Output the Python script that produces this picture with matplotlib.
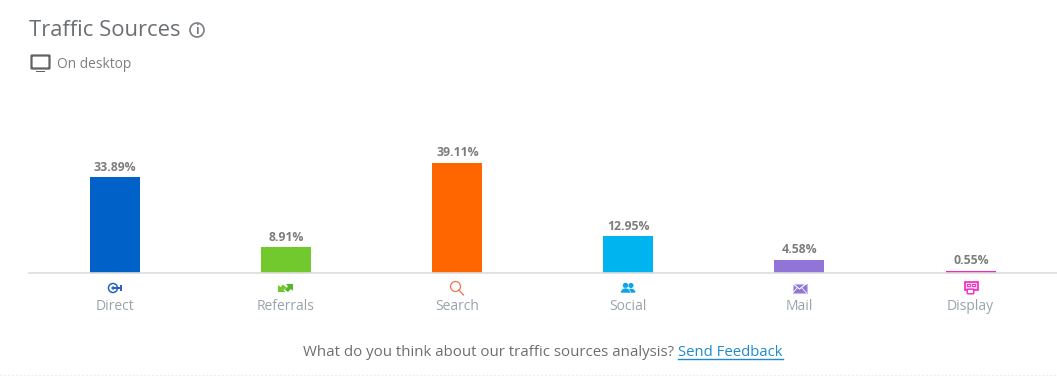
#!/usr/bin/env python
"""Traffic sources bar chart."""

import matplotlib
matplotlib.use('Agg')
import matplotlib.pyplot as plt
from matplotlib.patches import Circle, Rectangle, Polygon, FancyBboxPatch, Wedge
from matplotlib.lines import Line2D

plt.rcParams['font.family'] = ['Open Sans', 'DejaVu Sans']

W, H = 1057, 379

categories = ['Direct', 'Referrals', 'Search', 'Social', 'Mail', 'Display']
shares = [33.89, 8.91, 39.11, 12.95, 4.58, 0.55]
bar_colors = ['#0061c9', '#72c92e', '#ff6600', '#00b4f0', '#9074d8', '#f227c4']

fig = plt.figure(figsize=(W / 100, H / 100), dpi=100, facecolor='white')

# ── Bars ──
ax = fig.add_axes([29 / W, (H - 272.5) / H, 1028 / W, 182 / H])
ax.bar(range(len(shares)), shares, width=0.292, color=bar_colors, linewidth=0)
ax.set_xlim(-0.5, 5.505)
ax.set_ylim(0, 64.8)
for i, v in enumerate(shares):
    ax.annotate(f'{v:.2f}%', (i, v), xytext=(0.5, 2.5), textcoords='offset points',
                ha='center', va='bottom', fontsize=8.8, fontweight='bold', color='#7d7d7d')
for s in ['top', 'left', 'right']:
    ax.spines[s].set_visible(False)
ax.spines['bottom'].set_color('#dcdcdc')
ax.spines['bottom'].set_linewidth(1.2)
ax.set_yticks([])
ax.set_xticks(range(len(categories)))
ax.set_xticklabels(categories, fontsize=10, color='#9aa3ab')
ax.tick_params(axis='x', length=0, pad=19)

# ── Overlay in pixel coordinates for header, icons, footer ──
ov = fig.add_axes([0, 0, 1, 1], facecolor='none')
ov.set_xlim(0, W)
ov.set_ylim(H, 0)
ov.axis('off')

ov.text(29, 30, 'Traffic Sources', fontsize=15.8, color='#6b6f73', va='center', ha='left')
ov.add_patch(Circle((197, 30), 7, fill=False, ec='#7a7e82', lw=1.2))
ov.text(197, 30, 'i', fontsize=8.5, color='#7a7e82', ha='center', va='center', fontweight='bold')

# monitor icon
ov.add_patch(FancyBboxPatch((32, 56), 17, 12, boxstyle='round,pad=0.5', fc='white', ec='#5f6366', lw=1.6))
ov.add_patch(Rectangle((36, 70.5), 9, 1.8, fc='#5f6366', ec='none'))
ov.text(57, 64, 'On desktop', fontsize=9.9, color='#7c8084', va='center', ha='left')

# Direct icon
ov.add_patch(Circle((113, 288), 4.5, fill=False, ec='#2a5fc4', lw=1.1))
ov.add_patch(Circle((113, 288), 1.6, fc='#2a5fc4', ec='none'))
ov.add_patch(Rectangle((114, 287), 7, 2, fc='#2a5fc4', ec='none'))
ov.add_patch(Rectangle((119.5, 285), 2, 6, fc='#2a5fc4', ec='none'))

# Referrals icon
ov.add_patch(Polygon([(278, 292), (278, 285), (280.5, 287), (283, 284.5), (286.5, 287.5), (283.5, 290), (285.5, 292)],
                     fc='#72c92e', ec='none'))
ov.add_patch(Polygon([(293, 284), (293, 291), (291, 289), (288, 292), (284.5, 289.5), (288, 286.5), (286, 284)],
                     fc='#55b82a', ec='none'))

# Search icon
ov.add_patch(Circle((455.5, 286.5), 5, fill=False, ec='#f5734a', lw=0.9))
ov.add_line(Line2D([459, 463.5], [290, 295], color='#f5734a', lw=0.9))

# Social icon
for cx, sc in [(631, 0.95), (625.5, 1.0)]:
    ov.add_patch(Circle((cx, 285.5), 2.7 * sc, fc='#0aa5e8', ec='none'))
    ov.add_patch(Wedge((cx, 293), 5 * sc, 180, 360, fc='#0aa5e8', ec='white', lw=0.4))

# Mail icon
ov.add_patch(Rectangle((792.5, 283.5), 14, 9.5, fc='#9074d8', ec='#c5b8ee', lw=0.8))
ov.add_line(Line2D([792.5, 799.5, 806.5], [283.5, 289, 283.5], color='white', lw=0.8))
ov.add_line(Line2D([792.5, 797], [293, 288], color='white', lw=0.6))
ov.add_line(Line2D([806.5, 802], [293, 288], color='white', lw=0.6))

# Display icon
ov.add_patch(Rectangle((964.5, 281.5), 13, 8, fc='#fbd0f0', ec='#f227c4', lw=1.2))
ov.add_patch(Rectangle((966.5, 283.5), 3.5, 2.5, fc='white', ec='#f227c4', lw=0.7))
ov.add_patch(Rectangle((971.5, 283.5), 3.5, 2.5, fc='white', ec='#f227c4', lw=0.7))
ov.add_patch(FancyBboxPatch((968, 290), 5, 3, boxstyle='round,pad=0.8', fc='white', ec='#f227c4', lw=1))

# Footer
ov.text(674, 352, 'What do you think about our traffic sources analysis?', fontsize=10.85,
        color='#6b6f73', ha='right', va='center')
ov.text(783, 352, 'Send Feedback', fontsize=10.75, color='#1f8ad0', ha='right', va='center')
ov.add_line(Line2D([678, 783], [358.5, 358.5], color='#1f8ad0', lw=1))
ov.add_line(Line2D([0, W], [374.5, 374.5], color='#ececec', lw=0.8, ls=(0, (1.5, 2))))

fig.savefig('out.png', dpi=100, facecolor='white')
plt.close()
